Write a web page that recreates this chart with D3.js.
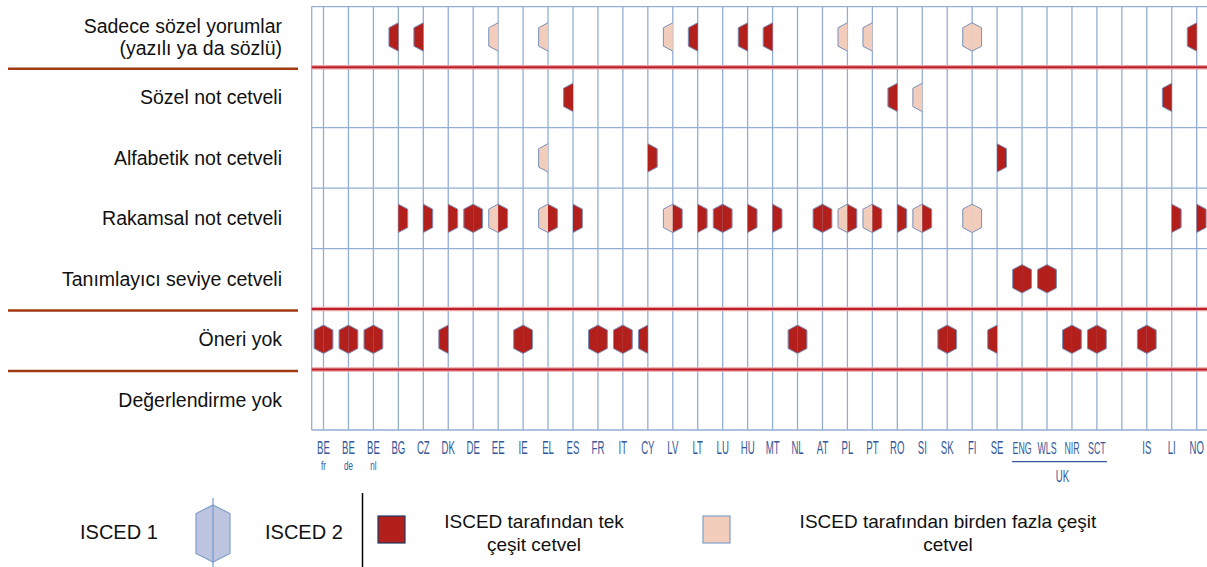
<!DOCTYPE html>
<html>
<head>
<meta charset="utf-8">
<script src="https://cdn.jsdelivr.net/npm/d3@7"></script>
<style>
  body { margin: 0; background: #fff; }
  text { font-family: "Liberation Sans", Arial, sans-serif; }
</style>
</head>
<body>
<script>
// ülke sütunları (boş sütun UK ile IS arasında)
const countries = ["BE fr", "BE de", "BE nl", "BG", "CZ", "DK", "DE", "EE", "IE", "EL", "ES", "FR", "IT", "CY",
    "LV", "LT", "LU", "HU", "MT", "NL", "AT", "PL", "PT", "RO", "SI", "SK", "FI", "SE",
    "ENG", "WLS", "NIR", "SCT", "", "IS", "LI", "NO"];
const tickCodes = ["BE", "BE", "BE", "BG", "CZ", "DK", "DE", "EE", "IE", "EL", "ES", "FR", "IT", "CY",
    "LV", "LT", "LU", "HU", "MT", "NL", "AT", "PL", "PT", "RO", "SI", "SK", "FI", "SE",
    "ENG", "WLS", "NIR", "SCT", "", "IS", "LI", "NO"];
const tickSub = ["fr", "de", "nl"];
const ukGroup = ["ENG", "WLS", "NIR", "SCT"];

const rowLabels = [
    ["Sadece sözel yorumlar", "(yazılı ya da sözlü)"],
    ["Sözel not cetveli"],
    ["Alfabetik not cetveli"],
    ["Rakamsal not cetveli"],
    ["Tanımlayıcı seviye cetveli"],
    ["Öneri yok"],
    ["Değerlendirme yok"]
];
// kırmızı ayırıcı çizgiler: bu satırların üst kenarında
const redBreaks = [1, 5, 6];

// [ülke, ISCED 1, ISCED 2]  T = tek çeşit cetvel, B = birden fazla çeşit, "" = yok
const sozelYorum = [["BG", "T", ""], ["CZ", "T", ""], ["EE", "B", ""], ["EL", "B", ""], ["LV", "B", ""],
    ["LT", "T", ""], ["HU", "T", ""], ["MT", "T", ""], ["PL", "B", ""], ["PT", "B", ""], ["FI", "B", "B"], ["NO", "T", ""]];
const sozelNot = [["ES", "T", ""], ["RO", "T", ""], ["SI", "B", ""], ["LI", "T", ""]];
const alfabetik = [["EL", "B", ""], ["CY", "", "T"], ["SE", "", "T"]];
const rakamsal = [["BG", "", "T"], ["CZ", "", "T"], ["DK", "", "T"], ["DE", "T", "T"], ["EE", "B", "T"],
    ["EL", "B", "T"], ["ES", "", "T"], ["LV", "B", "T"], ["LT", "", "T"], ["LU", "T", "T"], ["HU", "", "T"],
    ["MT", "", "T"], ["AT", "T", "T"], ["PL", "B", "T"], ["PT", "B", "T"], ["RO", "", "T"], ["SI", "B", "T"],
    ["FI", "B", "B"], ["LI", "", "T"], ["NO", "", "T"]];
const tanimlayici = [["ENG", "T", "T"], ["WLS", "T", "T"]];
const oneriYok = [["BE fr", "T", "T"], ["BE de", "T", "T"], ["BE nl", "T", "T"], ["DK", "T", ""], ["IE", "T", "T"],
    ["FR", "T", "T"], ["IT", "T", "T"], ["CY", "T", ""], ["NL", "T", "T"], ["SK", "T", "T"], ["SE", "T", ""],
    ["NIR", "T", "T"], ["SCT", "T", "T"], ["IS", "T", "T"]];
const degerlendirmeYok = [];
const rowData = [sozelYorum, sozelNot, alfabetik, rakamsal, tanimlayici, oneriYok, degerlendirmeYok];

const legendLabels = ["ISCED 1", "ISCED 2"];
const legendTypes = [
    { key: "T", lines: ["ISCED tarafından tek", "çeşit cetvel"] },
    { key: "B", lines: ["ISCED tarafından birden fazla çeşit", "cetvel"] }
];

const fills = { T: "#b31f1b", B: "#f2cdbb" };
const gridColor = "#93aed3";

const W = 1207, H = 567;
const svg = d3.select("body").append("svg")
    .attr("width", W)
    .attr("height", H);

const chartLeft = 311.7, chartRight = W;

const x = d3.scalePoint()
    .domain(countries)
    .range([323.5, 1196.7]);

const y = d3.scaleBand()
    .domain(d3.range(rowLabels.length))
    .range([6.7, 430]);

// --- ızgara ---
const grid = svg.append("g");

grid.selectAll(".vline")
    .data(countries)
    .enter()
    .append("line")
    .attr("x1", d => x(d)).attr("x2", d => x(d))
    .attr("y1", y.range()[0]).attr("y2", y.range()[1])
    .attr("stroke", gridColor)
    .attr("stroke-width", 1.3);

grid.append("line")
    .attr("x1", chartLeft).attr("x2", chartLeft)
    .attr("y1", y.range()[0]).attr("y2", y.range()[1])
    .attr("stroke", gridColor)
    .attr("stroke-width", 1.3);

const bounds = d3.range(rowLabels.length + 1).map(i => i < rowLabels.length ? y(i) : y.range()[1]);

grid.selectAll(".hline")
    .data(bounds.filter((b, i) => !redBreaks.includes(i)))
    .enter()
    .append("line")
    .attr("x1", chartLeft).attr("x2", chartRight)
    .attr("y1", d => d).attr("y2", d => d)
    .attr("stroke", gridColor)
    .attr("stroke-width", 1.3);

// kırmızı çift çizgiler
redBreaks.forEach(i => {
    const yy = bounds[i];
    grid.append("line")
        .attr("x1", chartLeft).attr("x2", chartRight)
        .attr("y1", yy).attr("y2", yy)
        .attr("stroke", "#e8a3a5").attr("stroke-width", 4.5);
    grid.append("line")
        .attr("x1", chartLeft).attr("x2", chartRight)
        .attr("y1", yy).attr("y2", yy)
        .attr("stroke", "#bf1f2b").attr("stroke-width", 2);
    // sol taraftaki kahverengi çizgi
    grid.append("line")
        .attr("x1", 8).attr("x2", 298)
        .attr("y1", yy + 1.5).attr("y2", yy + 1.5)
        .attr("stroke", "#a13a10").attr("stroke-width", 2.5);
});

// --- satır etiketleri ---
svg.append("g").selectAll("text")
    .data(rowLabels)
    .enter()
    .append("text")
    .attr("text-anchor", "end")
    .attr("font-size", 19.5)
    .attr("fill", "#111")
    .each(function (lines, i) {
        const cy = y(i) + y.bandwidth() / 2;
        const t = d3.select(this);
        const lh = 22;
        lines.forEach((ln, k) => {
            t.append("tspan")
                .attr("x", 282)
                .attr("y", cy + 7 + (k - (lines.length - 1) / 2) * lh)
                .text(ln);
        });
    });

// --- altıgenler ---
const hw = 9.4, hh = 14.2, sh = 9.2;
const leftHalf = `M0,${-hh}L${-hw},${-sh}L${-hw},${sh}L0,${hh}`;
const rightHalf = `M0,${-hh}L${hw},${-sh}L${hw},${sh}L0,${hh}`;

const marks = svg.append("g");
rowData.forEach((rows, i) => {
    const cy = y(i) + y.bandwidth() / 2;
    const g = marks.selectAll(null)
        .data(rows)
        .enter()
        .append("g")
        .attr("transform", d => `translate(${x(d[0])},${cy})`);
    g.filter(d => d[1]).append("path")
        .attr("d", leftHalf)
        .attr("fill", d => fills[d[1]])
        .attr("stroke", "#7890bb")
        .attr("stroke-width", 1);
    g.filter(d => d[2]).append("path")
        .attr("d", rightHalf)
        .attr("fill", d => fills[d[2]])
        .attr("stroke", "#7890bb")
        .attr("stroke-width", 1);
});

// --- ülke kodları ---
const tickColor = "#34589a";
const ticks = svg.append("g");
ticks.selectAll(".code")
    .data(countries)
    .enter()
    .append("text")
    .attr("transform", d => `translate(${x(d)},454) scale(0.55,1)`)
    .attr("text-anchor", "middle")
    .attr("font-size", d => ukGroup.includes(d) ? 16 : 17.5)
    .attr("fill", tickColor)
    .text((d, i) => tickCodes[i]);

ticks.selectAll(".sub")
    .data(tickSub)
    .enter()
    .append("text")
    .attr("transform", (d, i) => `translate(${x(countries[i])},470) scale(0.6,1)`)
    .attr("text-anchor", "middle")
    .attr("font-size", 13.5)
    .attr("fill", tickColor)
    .text(d => d);

const ukL = x(ukGroup[0]) - 10, ukR = x(ukGroup[ukGroup.length - 1]) + 10;
ticks.append("line")
    .attr("x1", ukL).attr("x2", ukR)
    .attr("y1", 461.7).attr("y2", 461.7)
    .attr("stroke", tickColor).attr("stroke-width", 1.2);
ticks.append("text")
    .attr("transform", `translate(${(ukL + ukR) / 2 + 3},482) scale(0.57,1)`)
    .attr("text-anchor", "middle")
    .attr("font-size", 17)
    .attr("fill", tickColor)
    .text("UK");

// --- açıklama ---
const legend = svg.append("g");
legend.append("text").attr("x", 80).attr("y", 539).attr("font-size", 20).attr("fill", "#111").text(legendLabels[0]);
legend.append("text").attr("x", 265).attr("y", 539).attr("font-size", 20).attr("fill", "#111").text(legendLabels[1]);

legend.append("line")
    .attr("x1", 213).attr("x2", 213).attr("y1", 498).attr("y2", 567)
    .attr("stroke", "#7f9fca").attr("stroke-width", 1.3);
legend.append("path")
    .attr("d", "M213,505L230,513.5L230,553.5L213,562L196,553.5L196,513.5Z")
    .attr("fill", "#b8c1de").attr("fill-opacity", 0.95)
    .attr("stroke", "#7f9fca").attr("stroke-width", 1.2);
legend.append("line")
    .attr("x1", 213).attr("x2", 213).attr("y1", 505).attr("y2", 562)
    .attr("stroke", "#7f9fca").attr("stroke-width", 1.3);

legend.append("line")
    .attr("x1", 362.5).attr("x2", 362.5).attr("y1", 493).attr("y2", 567)
    .attr("stroke", "#000").attr("stroke-width", 1.5);

const boxX = [378, 703], textX = [534, 948];
legendTypes.forEach((t, i) => {
    legend.append("rect")
        .attr("x", boxX[i]).attr("y", 516)
        .attr("width", 27).attr("height", 27)
        .attr("fill", fills[t.key])
        .attr("stroke", i === 0 ? "#1f3864" : "#7f9fca")
        .attr("stroke-width", 1.2);
    const txt = legend.append("text")
        .attr("text-anchor", "middle")
        .attr("font-size", 19)
        .attr("fill", "#111");
    t.lines.forEach((ln, k) => {
        txt.append("tspan").attr("x", textX[i]).attr("y", 528 + k * 23).text(ln);
    });
});
</script>
</body>
</html>
